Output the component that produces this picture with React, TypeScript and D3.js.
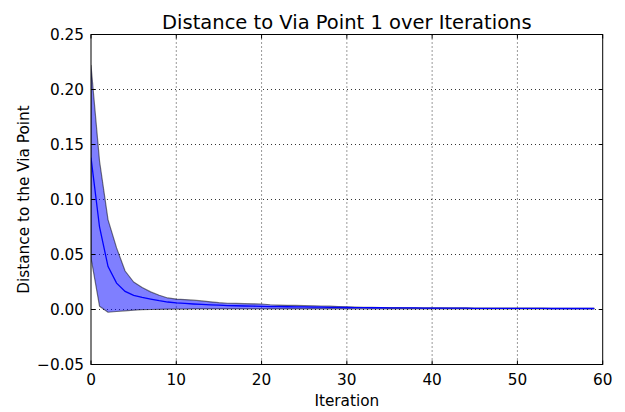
import React from "react";
import * as d3 from "d3";

// Per-iteration distance to the first via point: mean and spread band
const iterations = d3.range(60);
const meanDist = [
  0.138, 0.075, 0.039, 0.024, 0.0165, 0.0128, 0.011, 0.0095, 0.008, 0.0068,
  0.006, 0.0055, 0.005, 0.0046, 0.0042, 0.0039, 0.0036, 0.0034, 0.0032, 0.003,
  0.0029, 0.0027, 0.0026, 0.0025, 0.0024, 0.0023, 0.0022, 0.0021, 0.002, 0.0019,
  0.0018, 0.0017, 0.0017, 0.0016, 0.0016, 0.0015, 0.0015, 0.0014, 0.0014, 0.0013,
  0.0013, 0.0013, 0.0012, 0.0012, 0.0012, 0.0011, 0.0011, 0.0011, 0.0011, 0.001,
  0.001, 0.001, 0.001, 0.001, 0.0009, 0.0009, 0.0009, 0.0009, 0.0009, 0.0009,
];
const upperDist = [
  0.222, 0.135, 0.0815, 0.056, 0.035, 0.025, 0.02, 0.016, 0.013, 0.0105,
  0.0095, 0.009, 0.0085, 0.0078, 0.007, 0.0062, 0.0057, 0.0055, 0.0053, 0.0052,
  0.005, 0.0043, 0.004, 0.0038, 0.0037, 0.0035, 0.0033, 0.0032, 0.003, 0.0027,
  0.0024, 0.0022, 0.002, 0.0019, 0.0018, 0.0017, 0.0017, 0.0016, 0.0016, 0.0015,
  0.0015, 0.0015, 0.0014, 0.0014, 0.0014, 0.0013, 0.0013, 0.0013, 0.0013, 0.0012,
  0.0012, 0.0012, 0.0012, 0.0012, 0.0011, 0.0011, 0.0011, 0.0011, 0.0011, 0.0011,
];
const lowerDist = [
  0.047, 0.003, -0.0025, -0.0018, -0.0012, -0.0006, -0.0002, 0.0, 0.0002, 0.0003,
  0.0004, 0.0004, 0.0005, 0.0005, 0.0005, 0.0005, 0.0005, 0.0005, 0.0005, 0.0005,
  0.0005, 0.0005, 0.0005, 0.0005, 0.0005, 0.0005, 0.0005, 0.0005, 0.0005, 0.0005,
  0.0005, 0.0006, 0.0006, 0.0006, 0.0006, 0.0006, 0.0006, 0.0006, 0.0006, 0.0006,
  0.0006, 0.0006, 0.0006, 0.0006, 0.0006, 0.0006, 0.0006, 0.0006, 0.0006, 0.0006,
  0.0006, 0.0006, 0.0006, 0.0006, 0.0006, 0.0006, 0.0006, 0.0006, 0.0006, 0.0006,
];
const xTicks = [0, 10, 20, 30, 40, 50, 60];
const yTicks = [-0.05, 0, 0.05, 0.1, 0.15, 0.2, 0.25];

const W = 625;
const H = 412;
const M = { left: 91, right: 602.7, top: 34.5, bottom: 364.5 };
const FONT = "'DejaVu Sans', sans-serif";

const fmtY = (v: number) => {
  const s = Math.abs(v).toFixed(2);
  return v < -1e-9 ? "\u2212" + s : s;
};

export default function App() {
  const x = d3.scaleLinear().domain([0, 60]).range([M.left, M.right]);
  const y = d3.scaleLinear().domain([-0.05, 0.25]).range([M.bottom, M.top]);

  const band = d3
    .area<number>()
    .x((i) => x(iterations[i]))
    .y0((i) => y(lowerDist[i]))
    .y1((i) => y(upperDist[i]));
  const line = d3
    .line<number>()
    .x((i) => x(iterations[i]))
    .y((i) => y(meanDist[i]));

  const idx = iterations.map((_, i) => i);
  const tickLen = 4;

  return (
    <svg
      width={W}
      height={H}
      style={{ position: "absolute", left: 0, top: 0, background: "#fff" }}
      fontFamily={FONT}
    >
      <defs>
        <clipPath id="plotArea">
          <rect x={M.left} y={M.top} width={M.right - M.left} height={M.bottom - M.top} />
        </clipPath>
      </defs>

      {/* grid */}
      <g stroke="#000" strokeWidth={0.8} strokeDasharray="1,3">
        {xTicks.slice(1, -1).map((t) => (
          <line key={"gx" + t} x1={x(t)} x2={x(t)} y1={M.top} y2={M.bottom} />
        ))}
        {yTicks.slice(1, -1).map((t) => (
          <line key={"gy" + t} x1={M.left} x2={M.right} y1={y(t)} y2={y(t)} />
        ))}
      </g>

      <g clipPath="url(#plotArea)">
        <path
          d={band(idx) || ""}
          fill="rgba(0,0,255,0.5)"
          stroke="rgba(0,0,0,0.5)"
          strokeWidth={1.2}
          strokeLinejoin="round"
        />
        <path d={line(idx) || ""} fill="none" stroke="#0000ff" strokeWidth={1.3} />
      </g>

      {/* ticks on all four sides, pointing inward */}
      <g stroke="#000" strokeWidth={1}>
        {xTicks.map((t) => (
          <g key={"tx" + t}>
            <line x1={x(t)} x2={x(t)} y1={M.bottom} y2={M.bottom - tickLen} />
            <line x1={x(t)} x2={x(t)} y1={M.top} y2={M.top + tickLen} />
          </g>
        ))}
        {yTicks.map((t) => (
          <g key={"ty" + t}>
            <line x1={M.left} x2={M.left + tickLen} y1={y(t)} y2={y(t)} />
            <line x1={M.right} x2={M.right - tickLen} y1={y(t)} y2={y(t)} />
          </g>
        ))}
      </g>

      <rect
        x={M.left}
        y={M.top}
        width={M.right - M.left}
        height={M.bottom - M.top}
        fill="none"
        stroke="#000"
        strokeWidth={1}
      />

      {/* tick labels */}
      <g fontSize={15.3} fill="#000">
        {xTicks.map((t) => (
          <text key={"lx" + t} x={x(t)} y={385} textAnchor="middle">
            {String(t)}
          </text>
        ))}
        {yTicks.map((t) => (
          <text key={"ly" + t} x={M.left - 7} y={y(t)} dy="0.36em" textAnchor="end">
            {fmtY(t)}
          </text>
        ))}
      </g>

      <text x={(M.left + M.right) / 2} y={406} textAnchor="middle" fontSize={15.3}>
        Iteration
      </text>
      <text
        transform={`translate(29,${(M.top + M.bottom) / 2}) rotate(-90)`}
        textAnchor="middle"
        fontSize={15.3}
      >
        Distance to the Via Point
      </text>
      <text x={(M.left + M.right) / 2} y={29} textAnchor="middle" fontSize={19.5}>
        Distance to Via Point 1 over Iterations
      </text>
    </svg>
  );
}
